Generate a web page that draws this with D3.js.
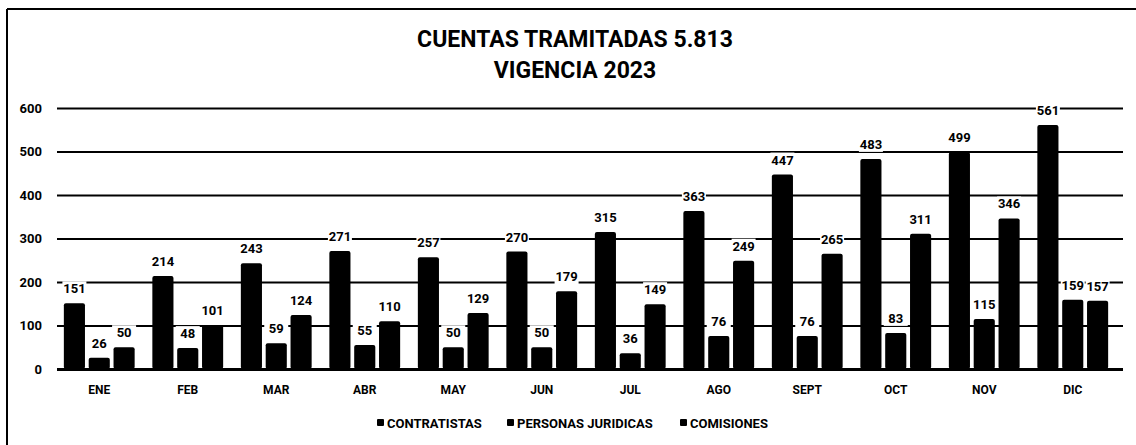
<!DOCTYPE html>
<html>
<head>
<meta charset="utf-8">
<script src="https://cdn.jsdelivr.net/npm/d3@7"></script>
<style>
  body { margin: 0; background: #fff; }
  text { font-family: Roboto, "Open Sans", sans-serif; font-weight: bold; fill: #000; }
</style>
</head>
<body>
<script>
let width = 1136;
let height = 445;

// datos
const meses = ['ENE', 'FEB', 'MAR', 'ABR', 'MAY', 'JUN', 'JUL', 'AGO', 'SEPT', 'OCT', 'NOV', 'DIC'];
const series = ['CONTRATISTAS', 'PERSONAS JURIDICAS', 'COMISIONES'];
const contratistas = [151, 214, 243, 271, 257, 270, 315, 363, 447, 483, 499, 561];
const personasJuridicas = [26, 48, 59, 55, 50, 50, 36, 76, 76, 83, 115, 159];
const comisiones = [50, 101, 124, 110, 129, 179, 149, 249, 265, 311, 346, 157];
const yTicks = [0, 100, 200, 300, 400, 500, 600];

const valores = [contratistas, personasJuridicas, comisiones];

let svg = d3.select('body').append('svg')
	.attr('width', width)
	.attr('height', height);

// marco escaneado
svg.append('line').attr('x1', 7).attr('y1', 9).attr('x2', 7).attr('y2', height)
	.style('stroke', '#000').style('stroke-width', 2);
svg.append('line').attr('x1', 7).attr('y1', 9).attr('x2', width).attr('y2', 9)
	.style('stroke', '#000').style('stroke-width', 2);

// titulo
svg.append('text').attr('x', 575).attr('y', 47).attr('text-anchor', 'middle')
	.style('font-size', '23px').text('CUENTAS TRAMITADAS 5.813');
svg.append('text').attr('x', 575).attr('y', 78).attr('text-anchor', 'middle')
	.style('font-size', '23px').text('VIGENCIA 2023');

let y = d3.scaleLinear().domain([0, 600]).range([369, 108]);

let x = d3.scaleBand().domain(meses).range([55, 1117])
	.paddingInner(0.2).paddingOuter(0.1);

let x1 = d3.scaleBand().domain(series).range([0, x.bandwidth()])
	.paddingInner(0.15);

// lineas de division
let gridLeft = 57, gridRight = 1123;
let yAxis = svg.append('g')
	.attr('transform', 'translate(' + gridLeft + ',0)')
	.call(d3.axisLeft(y).tickValues(yTicks).tickSize(-(gridRight - gridLeft)).tickPadding(15));
yAxis.select('.domain').remove();
yAxis.selectAll('line')
	.style('stroke', '#000')
	.style('stroke-width', d => d === 0 ? 3 : 2);
yAxis.selectAll('text').style('font-size', '13px').style('font-family', 'Roboto, sans-serif').style('font-weight', 'bold');

// barras
let grupos = svg.append('g').selectAll('g')
	.data(meses)
	.join('g')
	.attr('transform', d => 'translate(' + x(d) + ',0)');

grupos.selectAll('rect')
	.data((m, i) => series.map((s, j) => ({ serie: s, valor: valores[j][i] })))
	.join('rect')
	.attr('x', d => x1(d.serie))
	.attr('y', d => y(d.valor))
	.attr('width', x1.bandwidth())
	.attr('height', d => y(0) - y(d.valor))
	.attr('rx', 2)
	.style('fill', '#000');

// etiquetas de valores con fondo blanco
let etiquetas = grupos.selectAll('g.etq')
	.data((m, i) => series.map((s, j) => ({ serie: s, valor: valores[j][i] })))
	.join('g')
	.attr('class', 'etq')
	.attr('transform', d => 'translate(' + (x1(d.serie) + x1.bandwidth() / 2) + ',' + (y(d.valor) - 10) + ')');

etiquetas.append('rect')
	.attr('x', -12).attr('y', -12).attr('width', 24).attr('height', 15)
	.style('fill', '#fff');

etiquetas.append('text')
	.attr('text-anchor', 'middle')
	.style('font-size', '13px')
	.text(d => d.valor);

// eje de meses
let xAxis = svg.append('g')
	.attr('transform', 'translate(0,' + 369 + ')')
	.call(d3.axisBottom(x).tickSize(0).tickPadding(16));
xAxis.select('.domain').remove();
xAxis.selectAll('text').style('font-size', '12px').style('font-family', 'Roboto, sans-serif').style('font-weight', 'bold');

// leyenda
let leyX = [377, 507, 680];
let leyenda = svg.append('g').selectAll('g')
	.data(series)
	.join('g')
	.attr('transform', (d, i) => 'translate(' + leyX[i] + ',423)');

leyenda.append('rect')
	.attr('x', 0).attr('y', -4).attr('width', 7).attr('height', 7).attr('rx', 1)
	.style('fill', '#000');
leyenda.append('text')
	.attr('x', 10).attr('y', 4.5)
	.style('font-size', '13px')
	.text(d => d);
</script>
</body>
</html>
